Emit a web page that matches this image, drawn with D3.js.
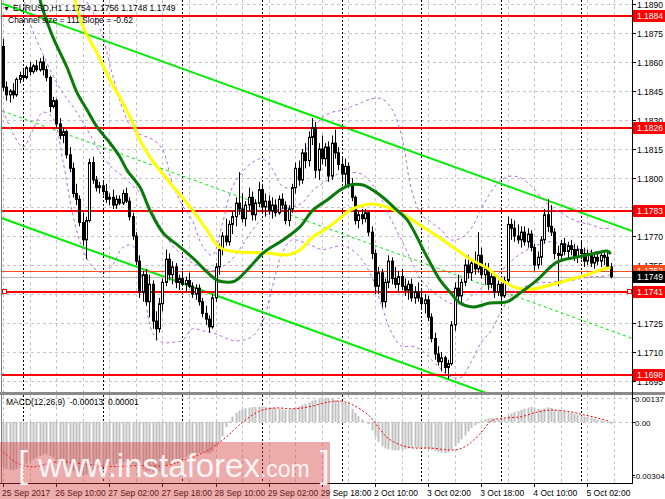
<!DOCTYPE html>
<html><head><meta charset="utf-8">
<script src="https://cdn.jsdelivr.net/npm/d3@7"></script>
<style>body{margin:0;background:#fff}svg{display:block;font-family:"Liberation Sans",Arial,sans-serif}</style>
</head><body><svg id="c" width="665" height="499"></svg>
<script>
// ---------- DATA ----------
const symbolTitle = "EURUSD,H1";
const lastOHLC = ["1.1754","1.1756","1.1748","1.1749"];
const channelText = "Channel size = 111 Slope = -0.62";
const macdText = "MACD(12,26,9)  -0.00013  0.00001";

const open = [1.1868,1.1847,1.1843,1.1845,1.1843,1.1851,1.1853,1.1852,1.1857,1.1855,
1.1858,1.1856,1.1860,1.1856,1.1852,1.1837,1.1840,1.1828,1.1822,1.1824,
1.1812,1.1805,1.1792,1.1789,1.1777,1.1768,1.1778,1.1808,1.1799,1.1795,
1.1796,1.1793,1.1789,1.1790,1.1786,1.1789,1.1787,1.1792,1.1788,1.1780,
1.1770,1.1757,1.1741,1.1750,1.1736,1.1745,1.1726,1.1722,1.1735,1.1746,
1.1758,1.1750,1.1754,1.1746,1.1748,1.1745,1.1747,1.1744,1.1740,1.1743,
1.1736,1.1730,1.1727,1.1723,1.1738,1.1754,1.1763,1.1770,1.1767,1.1776,
1.1780,1.1787,1.1784,1.1779,1.1786,1.1790,1.1781,1.1787,1.1794,1.1785,
1.1788,1.1783,1.1786,1.1782,1.1789,1.1786,1.1778,1.1784,1.1795,1.1805,
1.1799,1.1813,1.1809,1.1821,1.1826,1.1804,1.1815,1.1810,1.1816,1.1801,
1.1818,1.1813,1.1807,1.1802,1.1806,1.1797,1.1790,1.1778,1.1781,1.1779,
1.1782,1.1772,1.1761,1.1744,1.1751,1.1736,1.1746,1.1757,1.1748,1.1745,
1.1749,1.1744,1.1742,1.1745,1.1738,1.1741,1.1738,1.1735,1.1737,1.1728,
1.1717,1.1709,1.1705,1.1707,1.1702,1.1704,1.1724,1.1743,1.1739,1.1746,
1.1755,1.1751,1.1756,1.1753,1.1760,1.1750,1.1753,1.1745,1.1749,1.1741,
1.1745,1.1739,1.1747,1.1776,1.1774,1.1770,1.1768,1.1772,1.1767,1.1771,
1.1764,1.1755,1.1759,1.1768,1.1781,1.1775,1.1772,1.1761,1.1760,1.1766,
1.1762,1.1765,1.1763,1.1759,1.1763,1.1761,1.1757,1.1761,1.1756,1.1759,
1.1757,1.1760,1.1759,1.1754];
const high = [1.1872,1.1850,1.1846,1.1849,1.1852,1.1855,1.1857,1.1858,1.1860,1.1859,
1.1861,1.1862,1.1863,1.1858,1.1853,1.1842,1.1841,1.1831,1.1826,1.1825,
1.1816,1.1808,1.1797,1.1791,1.1782,1.1780,1.1810,1.1811,1.1801,1.1798,
1.1798,1.1797,1.1792,1.1794,1.1791,1.1791,1.1794,1.1795,1.1790,1.1782,
1.1772,1.1760,1.1752,1.1753,1.1750,1.1747,1.1731,1.1738,1.1748,1.1763,
1.1761,1.1757,1.1756,1.1750,1.1752,1.1749,1.1751,1.1746,1.1745,1.1745,
1.1738,1.1734,1.1729,1.1740,1.1756,1.1766,1.1772,1.1779,1.1778,1.1783,
1.1790,1.1803,1.1792,1.1788,1.1795,1.1793,1.1789,1.1798,1.1797,1.1792,
1.1791,1.1790,1.1789,1.1791,1.1792,1.1788,1.1786,1.1797,1.1808,1.1809,
1.1815,1.1818,1.1824,1.1831,1.1829,1.1818,1.1822,1.1818,1.1819,1.1822,
1.1825,1.1816,1.1811,1.1810,1.1808,1.1800,1.1791,1.1783,1.1784,1.1784,
1.1783,1.1775,1.1763,1.1754,1.1753,1.1748,1.1760,1.1759,1.1754,1.1752,
1.1753,1.1748,1.1747,1.1748,1.1744,1.1746,1.1742,1.1740,1.1739,1.1730,
1.1720,1.1713,1.1710,1.1708,1.1706,1.1726,1.1746,1.1750,1.1748,1.1758,
1.1760,1.1758,1.1762,1.1772,1.1764,1.1756,1.1756,1.1752,1.1751,1.1747,
1.1746,1.1749,1.1780,1.1779,1.1778,1.1776,1.1775,1.1775,1.1774,1.1773,
1.1766,1.1762,1.1770,1.1784,1.1789,1.1786,1.1774,1.1765,1.1768,1.1769,
1.1767,1.1768,1.1766,1.1765,1.1767,1.1764,1.1763,1.1763,1.1761,1.1762,
1.1761,1.1762,1.1762,1.1756];
const low = [1.1845,1.1840,1.1839,1.1841,1.1842,1.1849,1.1850,1.1851,1.1853,1.1854,
1.1855,1.1855,1.1853,1.1850,1.1834,1.1836,1.1826,1.1820,1.1818,1.1810,
1.1803,1.1790,1.1786,1.1775,1.1765,1.1758,1.1777,1.1797,1.1793,1.1792,
1.1791,1.1787,1.1786,1.1784,1.1784,1.1786,1.1786,1.1787,1.1778,1.1768,
1.1755,1.1738,1.1736,1.1734,1.1728,1.1722,1.1716,1.1720,1.1731,1.1744,
1.1747,1.1745,1.1743,1.1742,1.1744,1.1741,1.1743,1.1738,1.1737,1.1734,
1.1728,1.1724,1.1720,1.1722,1.1736,1.1750,1.1760,1.1765,1.1765,1.1771,
1.1775,1.1781,1.1777,1.1775,1.1783,1.1778,1.1778,1.1785,1.1782,1.1780,
1.1781,1.1779,1.1780,1.1781,1.1784,1.1776,1.1775,1.1782,1.1792,1.1796,
1.1797,1.1805,1.1806,1.1817,1.1800,1.1799,1.1807,1.1806,1.1798,1.1799,
1.1810,1.1804,1.1798,1.1796,1.1795,1.1788,1.1776,1.1774,1.1776,1.1777,
1.1770,1.1758,1.1740,1.1740,1.1733,1.1733,1.1743,1.1745,1.1743,1.1741,
1.1742,1.1739,1.1737,1.1736,1.1735,1.1736,1.1732,1.1730,1.1726,1.1715,
1.1706,1.1703,1.1700,1.1699,1.1696,1.1703,1.1721,1.1736,1.1735,1.1744,
1.1748,1.1747,1.1750,1.1751,1.1748,1.1745,1.1742,1.1743,1.1738,1.1739,
1.1736,1.1738,1.1746,1.1768,1.1767,1.1766,1.1764,1.1765,1.1764,1.1762,
1.1752,1.1753,1.1755,1.1766,1.1772,1.1770,1.1758,1.1744,1.1757,1.1760,
1.1758,1.1760,1.1757,1.1756,1.1758,1.1754,1.1755,1.1754,1.1753,1.1755,
1.1754,1.1755,1.1753,1.1748];
const close = [1.1847,1.1843,1.1845,1.1843,1.1851,1.1853,1.1852,1.1857,1.1855,1.1858,
1.1856,1.1860,1.1856,1.1852,1.1837,1.1840,1.1828,1.1822,1.1824,1.1812,
1.1805,1.1792,1.1789,1.1777,1.1768,1.1778,1.1808,1.1799,1.1795,1.1796,
1.1793,1.1789,1.1790,1.1786,1.1789,1.1787,1.1792,1.1788,1.1780,1.1770,
1.1757,1.1741,1.1750,1.1736,1.1745,1.1726,1.1722,1.1735,1.1746,1.1758,
1.1750,1.1754,1.1746,1.1748,1.1745,1.1747,1.1744,1.1740,1.1743,1.1736,
1.1730,1.1727,1.1723,1.1738,1.1754,1.1763,1.1770,1.1767,1.1776,1.1780,
1.1787,1.1784,1.1779,1.1786,1.1790,1.1781,1.1787,1.1794,1.1785,1.1788,
1.1783,1.1786,1.1782,1.1789,1.1786,1.1778,1.1784,1.1795,1.1805,1.1799,
1.1813,1.1809,1.1821,1.1826,1.1804,1.1815,1.1810,1.1816,1.1801,1.1818,
1.1813,1.1807,1.1802,1.1806,1.1797,1.1790,1.1778,1.1781,1.1779,1.1782,
1.1772,1.1761,1.1744,1.1751,1.1736,1.1746,1.1757,1.1748,1.1745,1.1749,
1.1744,1.1742,1.1745,1.1738,1.1741,1.1738,1.1735,1.1737,1.1728,1.1717,
1.1709,1.1705,1.1707,1.1702,1.1704,1.1724,1.1743,1.1739,1.1746,1.1755,
1.1751,1.1756,1.1753,1.1760,1.1750,1.1753,1.1745,1.1749,1.1741,1.1745,
1.1739,1.1747,1.1776,1.1774,1.1770,1.1768,1.1772,1.1767,1.1771,1.1764,
1.1755,1.1759,1.1768,1.1781,1.1775,1.1772,1.1761,1.1760,1.1766,1.1762,
1.1765,1.1763,1.1759,1.1763,1.1761,1.1757,1.1761,1.1756,1.1759,1.1757,
1.1760,1.1759,1.1754,1.1749];

// moving averages: [bar index, price]
const maGreen = [[11.1,1.18921],[12.0,1.18869],[15.0,1.18729],[19.2,1.18574],[22.3,1.18440],[25.3,1.18352],[28.3,1.18264],[32.2,1.18181],[35.2,1.18109],[37.3,1.18041],[41.2,1.17953],[44.2,1.17834],[48.2,1.17716],[53.3,1.17643],[57.8,1.17576],[61.4,1.17514],[64.4,1.17472],[66.8,1.17462],[69.8,1.17467],[73.5,1.17524],[78.3,1.17612],[84.3,1.17679],[89.4,1.17747],[93.3,1.17834],[97.6,1.17886],[101.5,1.17938],[104.5,1.17964],[108.4,1.17964],[113.5,1.17912],[118.6,1.17834],[121.7,1.17783],[127.7,1.17591],[131.6,1.17472],[134.6,1.17410],[137.6,1.17353],[141.5,1.17333],[146.6,1.17353],[151.7,1.17359],[155.7,1.17405],[160.8,1.17472],[166.8,1.17565],[172.9,1.17591],[178.9,1.17612],[181.9,1.17622],[183,1.17607]];
const maYellow = [[21.7,1.18921],[24.1,1.18781],[28.3,1.18647],[32.2,1.18507],[36.1,1.18388],[39.1,1.18284],[41.2,1.18197],[44.2,1.18109],[50.3,1.17974],[56.3,1.17850],[61.4,1.17731],[64.4,1.17653],[66.8,1.17628],[71.3,1.17617],[79.5,1.17612],[85.5,1.17602],[89.4,1.17628],[93.3,1.17695],[97.6,1.17741],[101.5,1.17793],[104.5,1.17834],[111.4,1.17866],[118.6,1.17829],[126.5,1.17747],[131.6,1.17690],[136.7,1.17628],[140.6,1.17581],[145.7,1.17534],[150.5,1.17467],[154.8,1.17431],[159.6,1.17426],[166.8,1.17457],[174.7,1.17493],[181.9,1.17534],[183,1.17534]];

// Bollinger-style bands (violet dashed): [bar index, price]
const bandUpper = [[18,1.1905],[24,1.1894],[27,1.1886],[30,1.1873],[33,1.1853],[36,1.1836],[39,1.1825],[42,1.1822],[45,1.1820],[48,1.1815],[51,1.1797],[54,1.1786],[57,1.1778],[60,1.1765],[63,1.1760],[66,1.1776],[69,1.1795],[72,1.1803],[75,1.1808],[78,1.1810],[81,1.1805],[84,1.1796],[87,1.1795],[90,1.1807],[93,1.1823],[96,1.1831],[99,1.1834],[102,1.1835],[105,1.1837],[108,1.1839],[111,1.1841],[114,1.1841],[117,1.1836],[120,1.1822],[123,1.1794],[126,1.1781],[129,1.1777],[132,1.1773],[135,1.1768],[138,1.1769],[141,1.1774],[144,1.1784],[147,1.1793],[150,1.1799],[153,1.1801],[156,1.1800],[159,1.1796],[162,1.1790],[165,1.1785],[168,1.1782],[171,1.1779],[174,1.1777],[177,1.1776],[180,1.1774],[183,1.1774]];
const bandMiddle = [[6,1.1897],[7,1.1886],[9,1.1876],[12,1.1864],[15,1.1853],[18,1.1844],[21,1.1837],[24,1.1829],[27,1.1820],[30,1.1811],[33,1.1805],[36,1.1801],[39,1.1796],[42,1.1791],[45,1.1782],[48,1.1773],[51,1.1765],[54,1.1760],[57,1.1756],[60,1.1754],[63,1.1752],[66,1.1754],[69,1.1758],[72,1.1765],[75,1.1773],[78,1.1779],[81,1.1783],[84,1.1784],[87,1.1785],[90,1.1787],[93,1.1793],[96,1.1797],[99,1.1800],[102,1.1803],[105,1.1803],[108,1.1802],[111,1.1797],[114,1.1789],[117,1.1778],[120,1.1768],[123,1.1757],[126,1.1747],[129,1.1742],[132,1.1738],[135,1.1735],[138,1.1735],[141,1.1739],[144,1.1743],[147,1.1747],[150,1.1752],[153,1.1757],[156,1.1761],[159,1.1764],[162,1.1766],[165,1.1767],[168,1.1766],[171,1.1765],[174,1.1763],[177,1.1762],[180,1.1762],[183,1.1762]];
const bandLower = [[0,1.1835],[3,1.1823],[6,1.1816],[9,1.1825],[12,1.1834],[15,1.1831],[18,1.1809],[21,1.1781],[24,1.1763],[27,1.1754],[30,1.1751],[33,1.1755],[36,1.1764],[39,1.1765],[42,1.1747],[45,1.1720],[48,1.1715],[51,1.1715],[54,1.1716],[57,1.1722],[60,1.1721],[63,1.1720],[66,1.1718],[69,1.1716],[72,1.1716],[75,1.1718],[78,1.1725],[81,1.1743],[84,1.1761],[87,1.1768],[90,1.1767],[93,1.1765],[96,1.1763],[99,1.1764],[102,1.1765],[105,1.1763],[108,1.1758],[111,1.1749],[114,1.1734],[117,1.1720],[120,1.1713],[123,1.1713],[126,1.1711],[129,1.1706],[132,1.1701],[135,1.1697],[138,1.1697],[141,1.1705],[144,1.1715],[147,1.1721],[150,1.1731],[153,1.1739],[156,1.1743],[159,1.1745],[162,1.1746],[165,1.1746],[168,1.1747],[171,1.1747],[174,1.1748],[177,1.1749],[180,1.1749],[183,1.1750]];

// regression channel
const channelStartPrice = 1.1890;   // upper line at bar 0
const channelSlope = -0.000062;     // per bar (-0.62 pips)
const channelSize = 0.0111;         // 111 pips

const levels = [1.1884, 1.1826, 1.1783, 1.1741, 1.1698];
const askPrice = 1.1752, bidPrice = 1.1749;
const priceTicks = [1.1890,1.1875,1.1860,1.1845,1.1830,1.1815,1.1800,1.1785,1.1770,1.1755,1.1740,1.1725,1.1710,1.1695];
const macdTicks = [0.00137, 0.00, -0.00304];
const macdTickText = ["0.00137","0.00","-0.00304"];

const timeLabels = [[0,"25 Sep 2017"],[16,"26 Sep 10:00"],[32,"27 Sep 02:00"],[48,"27 Sep 18:00"],[64,"28 Sep 10:00"],[80,"29 Sep 02:00"],[96,"29 Sep 18:00"],[112,"2 Oct 10:00"],[128,"3 Oct 02:00"],[144,"3 Oct 18:00"],[160,"4 Oct 10:00"],[176,"5 Oct 02:00"]];
const daySeparators = [6,30,54,78,102,126,150,174];

const macdMain = [-0.00260,-0.00270,-0.00275,-0.00275,-0.00270,-0.00262,
-0.00250,-0.00238,-0.00225,-0.00215,-0.00205,-0.00195,-0.00188,-0.00185,
-0.00195,-0.00205,-0.00218,-0.00232,-0.00240,-0.00255,-0.00268,-0.00282,-0.00292,-0.00300,-0.00304,-0.00300,
-0.00285,-0.00275,-0.00268,-0.00262,-0.00256,-0.00252,-0.00248,-0.00245,-0.00240,-0.00236,-0.00232,-0.00230,
-0.00234,-0.00242,-0.00255,-0.00268,-0.00272,-0.00280,-0.00282,-0.00290,-0.00292,
-0.00282,-0.00268,-0.00252,-0.00242,-0.00232,-0.00225,-0.00216,-0.00208,-0.00200,-0.00192,-0.00186,-0.00180,
-0.00178,-0.00178,-0.00180,-0.00182,-0.00170,-0.00145,-0.00115,-0.00082,
-0.00030,0.00005,0.00030,0.00052,0.00065,0.00072,0.00078,0.00082,0.00084,0.00086,0.00088,0.00088,0.00087,0.00085,0.00082,0.00080,0.00076,0.00072,0.00070,0.00070,0.00076,0.00084,0.00090,0.00098,0.00105,0.00113,0.00122,0.00126,0.00130,0.00134,0.00136,0.00137,
0.00132,0.00126,0.00120,0.00116,0.00110,0.00100,
0.00075,0.00052,0.00032,0.00014,0.00002,-0.00012,-0.00048,-0.00085,-0.00115,-0.00140,
-0.00152,-0.00158,-0.00162,-0.00163,-0.00162,-0.00160,-0.00156,-0.00152,-0.00150,-0.00148,
-0.00148,-0.00150,-0.00152,-0.00155,-0.00160,-0.00166,-0.00172,-0.00176,-0.00178,-0.00175,
-0.00160,-0.00140,-0.00122,-0.00100,-0.00078,-0.00055,-0.00035,-0.00020,-0.00008,0.00005,
0.00015,0.00020,0.00022,0.00020,0.00016,0.00012,0.00018,0.00035,0.00048,0.00056,
0.00062,0.00070,0.00076,0.00082,0.00086,0.00080,0.00074,0.00072,0.00078,0.00084,
0.00080,0.00072,0.00066,0.00064,0.00060,0.00056,0.00050,0.00046,0.00042,0.00036,
0.00030,0.00028,0.00024,0.00020,0.00014,0.00010,0.00006,0.00000,-0.00013];
const macdSignal = [[0,-0.00171],[4,-0.00234],[9,-0.00257],[16,-0.00230],[24,-0.00240],[32,-0.00255],[41,-0.00250],[49,-0.00250],[55,-0.00215],[61,-0.00170],[67,-0.00090],[71,-0.00020],[77,0.00060],[82,0.00080],[87,0.00075],[92,0.00086],[98,0.00114],[102,0.00118],[105,0.00100],[110,0.00040],[113,-0.00030],[116,-0.00095],[122,-0.00145],[129,-0.00150],[134,-0.00160],[137,-0.00158],[140,-0.00131],[144,-0.00060],[147,0.00005],[150,0.00020],[156,0.00030],[161,0.00057],[165,0.00068],[171,0.00057],[175,0.00040],[179,0.00023],[183,0.00001]];

// ---------- LAYOUT ----------
const svg = d3.select("#c");
const plotL = 1, plotR = 632, mainTop = 0, mainBot = 392, macdTop = 395, macdBot = 483;
const x = d3.scaleLinear().domain([0, 183]).range([3.1, 610.7]);
const y = d3.scaleLinear().domain([1.1695, 1.1890]).range([381, 4]);
const ym = d3.scaleLinear().domain([-0.00304, 0.00137]).range([475, 398]);
const px = v => Math.round(x(v)) + 0.5;
const fmt4 = d3.format(".4f");

const defs = svg.append("defs");
defs.append("clipPath").attr("id","cm").append("rect").attr("x",plotL).attr("y",mainTop).attr("width",plotR-plotL).attr("height",mainBot-mainTop);
defs.append("clipPath").attr("id","cd").append("rect").attr("x",plotL).attr("y",macdTop).attr("width",plotR-plotL).attr("height",macdBot-macdTop);

const gMain = svg.append("g").attr("clip-path","url(#cm)");
const gMacd = svg.append("g").attr("clip-path","url(#cd)");

// grids
gMain.selectAll(".hg").data(priceTicks).join("line")
  .attr("x1",plotL).attr("x2",plotR).attr("y1",d=>Math.round(y(d))+0.5).attr("y2",d=>Math.round(y(d))+0.5)
  .attr("stroke","#c6c6c6").attr("stroke-dasharray","3,3");
gMacd.selectAll(".hg").data([0.00137,0]).join("line")
  .attr("x1",plotL).attr("x2",plotR).attr("y1",d=>Math.round(ym(d))+0.5).attr("y2",d=>Math.round(ym(d))+0.5)
  .attr("stroke","#c6c6c6").attr("stroke-dasharray","3,3");
const vgrid = d3.range(0, 190, 8);
[gMain, gMacd].forEach((g,i)=>{
  const t = i===0?mainTop:macdTop, b = i===0?mainBot:macdBot;
  g.selectAll(".vg").data(vgrid).join("line")
    .attr("x1",d=>px(d)).attr("x2",d=>px(d)).attr("y1",t).attr("y2",b)
    .attr("stroke","#c6c6c6").attr("stroke-dasharray","3,3");
  g.selectAll(".ds").data(daySeparators).join("line")
    .attr("x1",d=>px(d)).attr("x2",d=>px(d)).attr("y1",t).attr("y2",b)
    .attr("stroke","#000").attr("stroke-dasharray","2,2");
});

// channel
const chanUp = b => channelStartPrice + channelSlope*b;
const chanBars = [-2, 192];
const lineP = d3.line().x(d=>x(d[0])).y(d=>y(d[1]));
gMain.append("path").attr("d", lineP(chanBars.map(b=>[b, chanUp(b)]))).attr("stroke","#00ee00").attr("stroke-width",2).attr("fill","none");
gMain.append("path").attr("d", lineP(chanBars.map(b=>[b, chanUp(b)-channelSize]))).attr("stroke","#00ee00").attr("stroke-width",2).attr("fill","none");
gMain.append("path").attr("d", lineP(chanBars.map(b=>[b, chanUp(b)-channelSize/2]))).attr("stroke","#00ee00").attr("stroke-width",1).attr("stroke-dasharray","3,3").attr("fill","none");

// levels
gMain.selectAll(".lv").data(levels).join("line")
  .attr("x1",plotL).attr("x2",plotR).attr("y1",d=>Math.round(y(d))).attr("y2",d=>Math.round(y(d)))
  .attr("stroke","#ff0000").attr("stroke-width",2);
gMain.append("line").attr("x1",plotL).attr("x2",plotR).attr("y1",Math.round(y(askPrice))+0.5).attr("y2",Math.round(y(askPrice))+0.5).attr("stroke","#ff4a1a").attr("stroke-width",1);
gMain.append("line").attr("x1",plotL).attr("x2",plotR).attr("y1",Math.round(y(bidPrice))+0.5).attr("y2",Math.round(y(bidPrice))+0.5).attr("stroke","#b8b8b8").attr("stroke-width",1);

// bands
const curve = d3.line().x(d=>x(d[0])).y(d=>y(d[1])).curve(d3.curveCatmullRom.alpha(0.5));
[bandUpper, bandMiddle, bandLower].forEach(b=>{
  gMain.append("path").attr("d",curve(b)).attr("stroke","#b36ae8").attr("stroke-width",1)
    .attr("stroke-dasharray","3,3").attr("fill","none");
});

// candles
const idx = d3.range(close.length);
gMain.selectAll(".wk").data(idx).join("line")
  .attr("x1",i=>px(i)).attr("x2",i=>px(i)).attr("y1",i=>y(high[i])).attr("y2",i=>y(low[i]))
  .attr("stroke","#000").attr("stroke-width",1);
gMain.selectAll(".bd").data(idx).join("rect")
  .attr("x",i=>px(i)-1).attr("width",2)
  .attr("y",i=>y(Math.max(open[i],close[i])))
  .attr("height",i=>Math.max(1, Math.abs(y(open[i])-y(close[i]))))
  .attr("fill",i=>close[i]>=open[i]?"#fff":"#000")
  .attr("stroke","#000").attr("stroke-width",1);

// moving averages
gMain.append("path").attr("d",curve(maYellow)).attr("stroke","#ffff00").attr("stroke-width",3).attr("fill","none");
gMain.append("path").attr("d",curve(maGreen)).attr("stroke","#0a7a0a").attr("stroke-width",3).attr("fill","none");

// selected-line markers on 1.1741
[2.5, 627.5].forEach(xx=>{
  gMain.append("rect").attr("x", xx).attr("y", Math.round(y(levels[3]))-2.5).attr("width",4).attr("height",4)
    .attr("fill","#fff").attr("stroke","#ff0000");
});

// MACD
gMacd.selectAll(".mh").data(idx).join("rect")
  .attr("x",i=>Math.round(x(i))-0.5).attr("width",2)
  .attr("y",i=>Math.min(ym(0),ym(macdMain[i]))).attr("height",i=>Math.abs(ym(macdMain[i])-ym(0)))
  .attr("fill","#c0c0c0");
gMacd.append("path").attr("d", d3.line().x(d=>x(d[0])).y(d=>ym(d[1])).curve(d3.curveCatmullRom.alpha(0.5))(macdSignal))
  .attr("stroke","#ff0000").attr("stroke-width",1).attr("stroke-dasharray","2,2").attr("fill","none");

// frame
svg.append("line").attr("x1",1.5).attr("x2",1.5).attr("y1",0).attr("y2",macdBot).attr("stroke","#808080");
svg.append("rect").attr("x",0).attr("y",mainBot).attr("width",665).attr("height",3).attr("fill","#8a8a8a");
svg.append("line").attr("x1",0).attr("x2",plotR).attr("y1",macdBot+0.5).attr("y2",macdBot+0.5).attr("stroke","#000");
svg.append("line").attr("x1",plotR+0.5).attr("x2",plotR+0.5).attr("y1",0).attr("y2",macdBot+1).attr("stroke","#000");

// right axis ticks & labels
const axG = svg.append("g").attr("font-size","8.5px").attr("fill","#000");
const tagPrices = levels.concat([askPrice, bidPrice]);
priceTicks.forEach(p=>{
  const yy = Math.round(y(p))+0.5;
  axG.append("line").attr("x1",plotR).attr("x2",plotR+4).attr("y1",yy).attr("y2",yy).attr("stroke","#000");
  const hidden = tagPrices.some(t=>Math.abs(y(t)-y(p))<5);
  if(!hidden) axG.append("text").attr("x",637).attr("y",yy+3).text(fmt4(p));
});
macdTicks.forEach((v,k)=>{
  const yy = Math.round(ym(v))+0.5;
  axG.append("line").attr("x1",plotR).attr("x2",plotR+3).attr("y1",yy).attr("y2",yy).attr("stroke","#000");
  axG.append("text").attr("x",v<0?633:635).attr("y",yy+3).attr("font-size","8px").text(macdTickText[k]);
});
function tag(p, bg){
  const yy = Math.round(y(p));
  axG.append("rect").attr("x",plotR+1).attr("y",yy-6).attr("width",665-plotR-1).attr("height",12).attr("fill",bg);
  axG.append("text").attr("x",637).attr("y",yy+3).attr("fill","#fff").text(fmt4(p));
}
levels.forEach(p=>tag(p,"#ff0000"));
tag(askPrice,"#ff4a1a");
tag(bidPrice,"#000");

// time axis
const tG = svg.append("g").attr("font-size","8.5px").attr("fill","#000");
timeLabels.forEach(([b,t])=>{
  tG.append("line").attr("x1",px(b)).attr("x2",px(b)).attr("y1",macdBot).attr("y2",macdBot+4).attr("stroke","#000");
  tG.append("text").attr("x",x(b)-1).attr("y",496).text(t);
});

// header texts
svg.append("text").attr("x",3).attr("y",11).attr("font-size","7px").text("▼");
svg.append("text").attr("x",13).attr("y",11).attr("font-size","8.5px").text(symbolTitle+"  "+lastOHLC.join(" "));
svg.append("text").attr("x",8).attr("y",23).attr("font-size","8.5px").text(channelText);
svg.append("text").attr("x",6).attr("y",405).attr("font-size","8.5px").attr("xml:space","preserve").style("white-space","pre").text(macdText);

// watermark
svg.append("rect").attr("x",0).attr("y",442).attr("width",330).attr("height",57).attr("fill","rgba(212,58,58,0.42)");
const wm = svg.append("text").attr("x",18).attr("y",477).attr("fill","#fff").attr("fill-opacity",0.9);
wm.append("tspan").attr("font-size","36px").text("[ ");
wm.append("tspan").attr("font-size","33px").text("www.instaforex");
wm.append("tspan").attr("font-size","23px").text(".com");
wm.append("tspan").attr("font-size","36px").text(" ]");
</script></body></html>
